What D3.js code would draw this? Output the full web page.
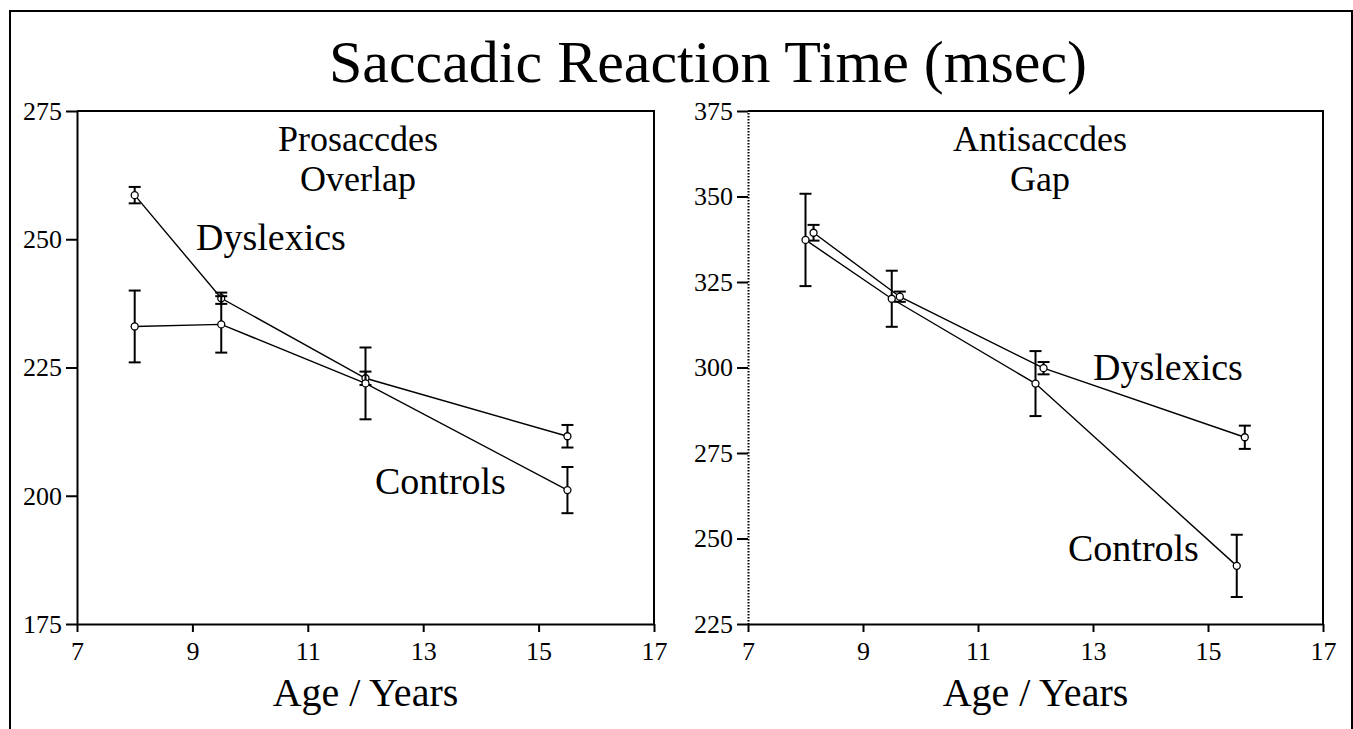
<!DOCTYPE html>
<html>
<head>
<meta charset="utf-8">
<script src="https://cdn.jsdelivr.net/npm/d3@7"></script>
<style>
  body { margin: 0; background: #fff; }
  svg text { font-family: "Liberation Serif", "Times New Roman", serif; fill: #000; }
</style>
</head>
<body>
<script>
// ages of the four groups
const ages = [8, 9.5, 12, 15.5];
const antiDysAges = [8.14, 9.64, 12.14, 15.64];

// Prosaccades, overlap task (msec)
const proDysMean = [258.6, 238.5, 222.9, 211.6];
const proDysErr = [1.6, 1.1, 1.3, 2.2];
const proCtlMean = [233.0, 233.4, 221.9, 201.1];
const proCtlErr = [7.0, 5.5, 7.0, 4.5];

// Antisaccades, gap task (msec)
const antiDysMean = [339.4, 320.7, 299.8, 279.6];
const antiDysErr = [2.3, 1.5, 1.8, 3.4];
const antiCtlMean = [337.3, 320.1, 295.3, 242.0];
const antiCtlErr = [13.5, 8.2, 9.5, 9.1];

const xTicks = [7, 9, 11, 13, 15, 17];
const proYTicks = [175, 200, 225, 250, 275];
const antiYTicks = [225, 250, 275, 300, 325, 350, 375];

const w = 1353;
const h = 729;

const svg = d3.select("body")
              .append("svg")
              .attr("width", w)
              .attr("height", h);

// outer frame
svg.append("rect")
   .attr("x", 10)
   .attr("y", 11)
   .attr("width", 1342)
   .attr("height", 740)
   .attr("fill", "none")
   .attr("stroke", "#000")
   .attr("stroke-width", 2);

svg.append("text")
   .attr("x", 708)
   .attr("y", 82)
   .attr("text-anchor", "middle")
   .style("font-size", "60px")
   .text("Saccadic Reaction Time (msec)");

function drawPanel(p) {
  const g = svg.append("g");
  const x = d3.scaleLinear().domain([7, 17]).range([p.left, p.right]);
  const y = d3.scaleLinear().domain([p.yTicks[0], p.yTicks[p.yTicks.length - 1]]).range([p.bottom, p.top]);

  // x axis
  const xa = g.append("g")
    .attr("transform", `translate(0, ${p.bottom})`)
    .call(d3.axisBottom(x).tickValues(xTicks).tickSize(8).tickSizeOuter(0).tickPadding(10));
  xa.selectAll("text").style("font-size", "26px");

  // y axis
  const ya = g.append("g")
    .attr("transform", `translate(${p.left}, 0)`)
    .call(d3.axisLeft(y).tickValues(p.yTicks).tickSize(11).tickSizeOuter(0).tickPadding(4));
  ya.selectAll("text").style("font-size", "26px");
  ya.select(".domain").attr("stroke-dasharray", p.dotted ? "1.5,1.5" : null);

  g.selectAll(".domain, .tick line").attr("stroke", "#000").attr("stroke-width", 2);

  // top and right borders
  g.append("path")
   .attr("d", `M${x(7)},${y.range()[1]}H${x(17)}V${y.range()[0]}`)
   .attr("fill", "none")
   .attr("stroke", "#000")
   .attr("stroke-width", 2);

  p.series.forEach(s => {
    const pts = s.ages.map((a, i) => ({ a: a, m: s.mean[i], e: s.err[i] }));

    g.append("path")
     .datum(pts)
     .attr("d", d3.line().x(d => x(d.a)).y(d => y(d.m)))
     .attr("fill", "none")
     .attr("stroke", "#000")
     .attr("stroke-width", 1.4);

    const eb = g.append("g").selectAll("g").data(pts).enter().append("g")
      .attr("stroke", "#000").attr("stroke-width", 2);
    eb.append("line")
      .attr("x1", d => x(d.a)).attr("x2", d => x(d.a))
      .attr("y1", d => y(d.m - d.e)).attr("y2", d => y(d.m + d.e));
    eb.append("line")
      .attr("x1", d => x(d.a) - 6).attr("x2", d => x(d.a) + 6)
      .attr("y1", d => y(d.m + d.e)).attr("y2", d => y(d.m + d.e));
    eb.append("line")
      .attr("x1", d => x(d.a) - 6).attr("x2", d => x(d.a) + 6)
      .attr("y1", d => y(d.m - d.e)).attr("y2", d => y(d.m - d.e));

    g.append("g").selectAll("circle").data(pts).enter().append("circle")
     .attr("cx", d => x(d.a))
     .attr("cy", d => y(d.m))
     .attr("r", 3.5)
     .attr("fill", "#fff")
     .attr("stroke", "#000")
     .attr("stroke-width", 1.3);
  });

  // panel heading, two lines
  p.heading.forEach((t, i) => {
    g.append("text")
     .attr("x", p.headX)
     .attr("y", 151 + i * 40)
     .attr("text-anchor", "middle")
     .style("font-size", "36px")
     .text(t);
  });

  p.labels.forEach(l => {
    g.append("text")
     .attr("x", l[1])
     .attr("y", l[2])
     .style("font-size", "38px")
     .text(l[0]);
  });

  g.append("text")
   .attr("x", (p.left + p.right) / 2)
   .attr("y", 706)
   .attr("text-anchor", "middle")
   .style("font-size", "40px")
   .text("Age / Years");
}

drawPanel({
  left: 77, right: 654, top: 111, bottom: 624,
  yTicks: proYTicks, dotted: false,
  heading: ["Prosaccdes", "Overlap"], headX: 358,
  labels: [["Dyslexics", 196, 250], ["Controls", 375, 494]],
  series: [
    { ages: ages, mean: proDysMean, err: proDysErr },
    { ages: ages, mean: proCtlMean, err: proCtlErr }
  ]
});

drawPanel({
  left: 748, right: 1323, top: 111, bottom: 624,
  yTicks: antiYTicks, dotted: true,
  heading: ["Antisaccdes", "Gap"], headX: 1040,
  labels: [["Dyslexics", 1093, 380], ["Controls", 1068, 561]],
  series: [
    { ages: antiDysAges, mean: antiDysMean, err: antiDysErr },
    { ages: ages, mean: antiCtlMean, err: antiCtlErr }
  ]
});
</script>
</body>
</html>
